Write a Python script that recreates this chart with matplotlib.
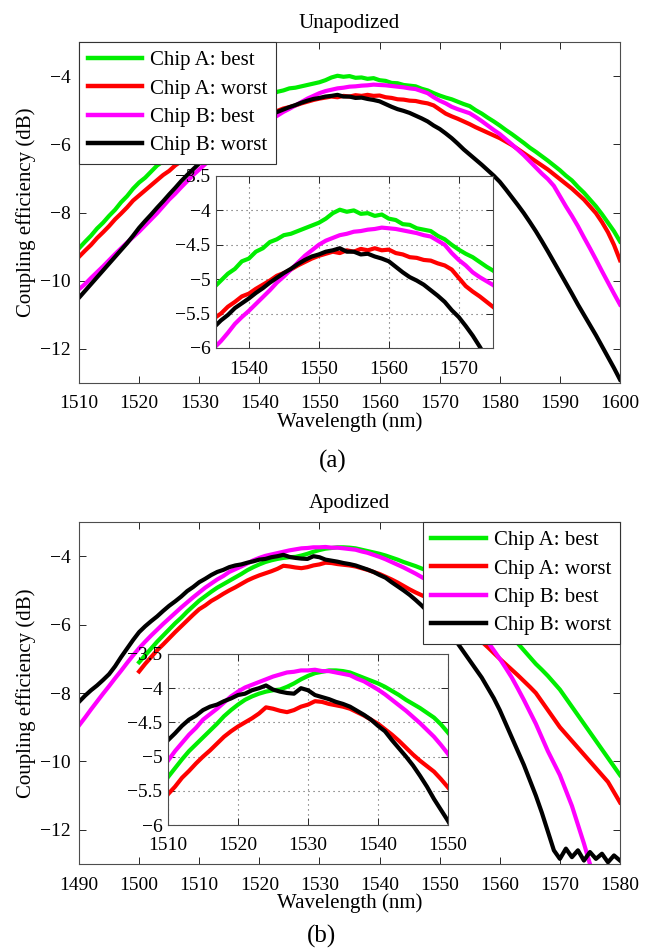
import numpy as np
import matplotlib
matplotlib.use("Agg")
import matplotlib.pyplot as plt
from matplotlib.ticker import FuncFormatter

plt.rcParams['font.family'] = ['Liberation Serif', 'DejaVu Serif']
plt.rcParams['axes.unicode_minus'] = True

# ---------------- data ----------------
labels = ["Chip A: best", "Chip A: worst", "Chip B: best", "Chip B: worst"]
colors = ["#00ee00", "#ff0000", "#ff00ff", "#000000"]

# (a) Unapodized, wavelength 1510..1600 nm, 1 nm step
wl_a_start, wl_a_end = 1510, 1600
una_A_best = [-9.05, -8.86, -8.68, -8.47, -8.30, -8.10, -7.92, -7.70, -7.52, -7.30,
              -7.12, -6.98, -6.80, -6.62, -6.50, -6.33, -6.20, -6.06, -5.95, -5.80,
              -5.70, -5.58, -5.47, -5.35, -5.25, -5.12, -5.02, -4.92, -4.85, -4.74,
              -4.70, -4.60, -4.55, -4.46, -4.42, -4.36, -4.34, -4.30, -4.26, -4.22,
              -4.18, -4.12, -4.04, -3.99, -4.02, -4.00, -4.05, -4.04, -4.08, -4.06,
              -4.12, -4.14, -4.20, -4.21, -4.26, -4.28, -4.30, -4.37, -4.42, -4.50,
              -4.57, -4.63, -4.68, -4.75, -4.82, -4.88, -5.00, -5.10, -5.22, -5.33,
              -5.45, -5.58, -5.70, -5.83, -5.96, -6.10, -6.22, -6.35, -6.48, -6.62,
              -6.76, -6.92, -7.06, -7.25, -7.42, -7.62, -7.82, -8.05, -8.30, -8.55,
              -8.85]
una_A_worst = [-9.30, -9.12, -8.95, -8.75, -8.58, -8.40, -8.20, -8.03, -7.85, -7.65,
               -7.50, -7.35, -7.20, -7.05, -6.90, -6.78, -6.62, -6.50, -6.38, -6.25,
               -6.15, -6.02, -5.92, -5.80, -5.68, -5.57, -5.50, -5.40, -5.33, -5.25,
               -5.21, -5.14, -5.08, -5.02, -4.95, -4.91, -4.86, -4.80, -4.75, -4.70,
               -4.66, -4.63, -4.60, -4.62, -4.58, -4.60, -4.56, -4.58, -4.55, -4.58,
               -4.57, -4.62, -4.64, -4.68, -4.69, -4.72, -4.73, -4.77, -4.80, -4.86,
               -4.98, -5.10, -5.18, -5.25, -5.33, -5.41, -5.50, -5.58, -5.66, -5.74,
               -5.82, -5.92, -6.02, -6.14, -6.26, -6.38, -6.50, -6.62, -6.74, -6.88,
               -7.02, -7.16, -7.30, -7.46, -7.62, -7.82, -8.02, -8.28, -8.58, -8.95,
               -9.40]
una_B_best = [-10.25, -10.10, -9.92, -9.75, -9.58, -9.40, -9.22, -9.05, -8.88, -8.72,
              -8.56, -8.38, -8.20, -8.02, -7.82, -7.62, -7.45, -7.26, -7.08, -6.90,
              -6.74, -6.58, -6.43, -6.28, -6.14, -6.00, -5.90, -5.78, -5.65, -5.55,
              -5.46, -5.36, -5.26, -5.16, -5.05, -4.96, -4.86, -4.76, -4.66, -4.58,
              -4.50, -4.44, -4.40, -4.36, -4.34, -4.31, -4.30, -4.28, -4.27, -4.25,
              -4.26, -4.27, -4.29, -4.31, -4.33, -4.36, -4.38, -4.44, -4.50, -4.62,
              -4.72, -4.80, -4.90, -4.97, -5.03, -5.09, -5.20, -5.32, -5.45, -5.58,
              -5.70, -5.85, -6.00, -6.16, -6.32, -6.50, -6.68, -6.86, -7.02, -7.22,
              -7.52, -7.82, -8.10, -8.40, -8.73, -9.05, -9.38, -9.72, -10.05, -10.38,
              -10.70]
una_B_worst = [-10.50, -10.30, -10.10, -9.90, -9.70, -9.50, -9.30, -9.10, -8.90, -8.68,
               -8.45, -8.25, -8.06, -7.86, -7.67, -7.47, -7.28, -7.08, -6.90, -6.73,
               -6.56, -6.38, -6.21, -6.04, -5.87, -5.70, -5.60, -5.52, -5.42, -5.35,
               -5.28, -5.20, -5.13, -5.05, -4.98, -4.91, -4.85, -4.78, -4.72, -4.67,
               -4.64, -4.60, -4.58, -4.55, -4.60, -4.60, -4.64, -4.63, -4.67, -4.70,
               -4.74, -4.82, -4.90, -4.97, -5.02, -5.08, -5.16, -5.24, -5.33, -5.45,
               -5.55, -5.68, -5.82, -5.98, -6.15, -6.30, -6.45, -6.60, -6.76, -6.92,
               -7.10, -7.32, -7.55, -7.78, -8.02, -8.28, -8.55, -8.84, -9.14, -9.45,
               -9.76, -10.07, -10.38, -10.70, -11.00, -11.30, -11.60, -11.92, -12.24, -12.56,
               -12.90]

# (b) Apodized, wavelength 1490..1580 nm, 1 nm step (NaN = not measured)
wl_b_start, wl_b_end = 1490, 1580
nan = np.nan
apo_A_best = [nan] * 10 + [
    -7.10, -6.90, -6.70, -6.50, -6.32, -6.14, -5.96, -5.80, -5.62, -5.46,
    -5.30, -5.17, -5.04, -4.92, -4.82, -4.72, -4.62, -4.52, -4.41, -4.32,
    -4.24, -4.17, -4.12, -4.08, -4.05, -4.03, -4.02, -3.98, -3.93, -3.87,
    -3.82, -3.78, -3.76, -3.74, -3.74, -3.75, -3.77, -3.81, -3.85, -3.89,
    -3.93, -3.98, -4.04, -4.10, -4.17, -4.23, -4.29, -4.36, -4.43, -4.53,
    -4.65, -4.77, -4.90, -5.02, -5.15, -5.28, -5.40, -5.55, -5.70, -5.85,
    -6.00, -6.17, -6.35, -6.55, -6.75, -6.95, -7.15, -7.32, -7.50, -7.70,
    -7.90, -8.15, -8.40, -8.65, -8.90, -9.15, -9.40, -9.65, -9.90, -10.15,
    -10.40]
apo_A_worst = [nan] * 10 + [
    -7.37, -7.15, -6.95, -6.75, -6.58, -6.40, -6.22, -6.05, -5.88, -5.71,
    -5.55, -5.44, -5.31, -5.21, -5.10, -5.00, -4.91, -4.81, -4.71, -4.63,
    -4.56, -4.50, -4.44, -4.37, -4.28, -4.30, -4.33, -4.35, -4.32, -4.27,
    -4.24, -4.19, -4.20, -4.23, -4.25, -4.27, -4.30, -4.35, -4.40, -4.46,
    -4.52, -4.60, -4.68, -4.77, -4.87, -4.97, -5.06, -5.14, -5.22, -5.33,
    -5.45, -5.58, -5.72, -5.86, -6.02, -6.18, -6.34, -6.50, -6.66, -6.83,
    -7.00, -7.16, -7.32, -7.48, -7.65, -7.82, -8.00, -8.25, -8.50, -8.75,
    -9.00, -9.20, -9.40, -9.60, -9.80, -10.00, -10.20, -10.40, -10.60, -10.90,
    -11.20]
apo_B_best = [
    -8.95, -8.72, -8.48, -8.25, -8.02, -7.80, -7.57, -7.35, -7.12, -6.90,
    -6.69, -6.50, -6.32, -6.15, -5.98, -5.82, -5.66, -5.50, -5.35, -5.20,
    -5.06, -4.92, -4.80, -4.68, -4.58, -4.46, -4.38, -4.30, -4.21, -4.12,
    -4.05, -3.99, -3.95, -3.91, -3.87, -3.83, -3.80, -3.77, -3.76, -3.74,
    -3.74, -3.73, -3.75, -3.75, -3.77, -3.79, -3.81, -3.86, -3.90, -3.96,
    -4.02, -4.09, -4.17, -4.25, -4.33, -4.42, -4.51, -4.61, -4.71, -4.83,
    -4.96, -5.12, -5.30, -5.48, -5.66, -5.85, -6.05, -6.27, -6.50, -6.75,
    -7.00, -7.27, -7.55, -7.87, -8.20, -8.55, -8.90, -9.30, -9.70, -10.05,
    -10.40, -10.85, -11.30, -11.85, -12.40, -13.00] + [nan] * 5
apo_B_worst = [
    -8.26, -8.08, -7.92, -7.78, -7.62, -7.45, -7.22, -6.95, -6.70, -6.45,
    -6.22, -6.05, -5.90, -5.76, -5.60, -5.45, -5.32, -5.18, -5.02, -4.90,
    -4.76, -4.66, -4.55, -4.46, -4.40, -4.32, -4.27, -4.24, -4.19, -4.15,
    -4.10, -4.08, -4.03, -4.00, -3.96, -4.02, -4.05, -4.07, -4.08, -4.00,
    -4.03, -4.10, -4.13, -4.16, -4.20, -4.23, -4.27, -4.33, -4.39, -4.46,
    -4.55, -4.63, -4.76, -4.88, -5.00, -5.13, -5.28, -5.44, -5.62, -5.78,
    -5.94, -6.12, -6.30, -6.55, -6.80, -7.05, -7.30, -7.55, -7.85, -8.15,
    -8.50, -8.90, -9.30, -9.70, -10.10, -10.55, -11.00, -11.50, -12.05, -12.60,
    -12.85, -12.55, -12.80, -12.60, -12.90, -12.65, -12.85, -12.70, -12.95, -12.75,
    -12.90]

main_yticks = [-12, -10, -8, -6, -4]
inset_yticks = [-6, -5.5, -5, -4.5, -4, -3.5]
xticks_a = list(range(1510, 1601, 10))
xticks_b = list(range(1490, 1581, 10))
inset_xticks_a = [1540, 1550, 1560, 1570]
inset_xticks_b = [1510, 1520, 1530, 1540, 1550]

# ---------------- figure ----------------
W, H = 653, 948
fig = plt.figure(figsize=(W / 100, H / 100), dpi=100)


def box(x0, y0, x1, y1):
    return [x0 / W, 1 - y1 / H, (x1 - x0) / W, (y1 - y0) / H]


fmt = FuncFormatter(lambda v, p: ('%g' % v).replace('-', '\u2212'))


def style(ax, fs):
    ax.tick_params(direction='in', top=True, right=True, length=5, width=0.7,
                   labelsize=fs, colors='0.15', labelcolor='black', pad=6)
    for s in ax.spines.values():
        s.set_color('0.3')
        s.set_linewidth(0.8)
    ax.yaxis.set_major_formatter(fmt)


def draw_panel(rect_main, rect_inset, x0, x1, series, xticks, ixlim, ixticks,
               title, legend_loc, tag, tag_xy):
    wl = np.arange(x0, x1 + 1)
    ax = fig.add_axes(box(*rect_main))
    for vals, c, lab in zip(series, colors, labels):
        ax.plot(wl, vals, color=c, lw=3.0, label=lab, solid_joinstyle='round')
    ax.set_xlim(x0, x1)
    ax.set_ylim(-13, -3)
    ax.set_xticks(xticks)
    ax.set_yticks(main_yticks)
    style(ax, 14)
    ax.tick_params(axis='x', pad=9)
    ax.set_title(title, fontsize=15, pad=10)
    ax.set_xlabel("Wavelength (nm)", fontsize=15, labelpad=0)
    ax.set_ylabel("Coupling efficiency (dB)", fontsize=15, labelpad=3)
    leg = ax.legend(loc=legend_loc, fontsize=15, frameon=True, fancybox=False,
                    borderaxespad=0, handlelength=2.6, handletextpad=0.4,
                    labelspacing=0.42, borderpad=0.42, framealpha=1)
    leg.get_frame().set_edgecolor('0.2')
    leg.get_frame().set_linewidth(0.8)
    for ln in leg.get_lines():
        ln.set_linewidth(3.2)

    axi = fig.add_axes(box(*rect_inset))
    for vals, c in zip(series, colors):
        axi.plot(wl, vals, color=c, lw=3.0, solid_joinstyle='round')
    axi.set_xlim(*ixlim)
    axi.set_ylim(-6, -3.5)
    axi.set_xticks(ixticks)
    axi.set_yticks(inset_yticks)
    axi.grid(True, linestyle=(0, (1, 3.5)), color='0.35', linewidth=0.8)
    style(axi, 14)
    axi.tick_params(axis='y', pad=4)
    axi.tick_params(axis='x', pad=9)
    fig.text(tag_xy[0] / W, 1 - tag_xy[1] / H, tag, fontsize=18,
             ha='center', va='center')


draw_panel((79, 42, 620, 383), (216, 176, 493, 348), wl_a_start, wl_a_end,
           [una_A_best, una_A_worst, una_B_best, una_B_worst], xticks_a,
           (1535.3, 1574.9), inset_xticks_a, "Unapodized", 'upper left',
           "(a)", (333, 461))
draw_panel((79, 522, 620, 864), (168, 654, 448, 825), wl_b_start, wl_b_end,
           [apo_A_best, apo_A_worst, apo_B_best, apo_B_worst], xticks_b,
           (1510, 1550), inset_xticks_b, "Apodized", 'upper right',
           "(b)", (322, 936))

fig.savefig("out.png", dpi=100)
